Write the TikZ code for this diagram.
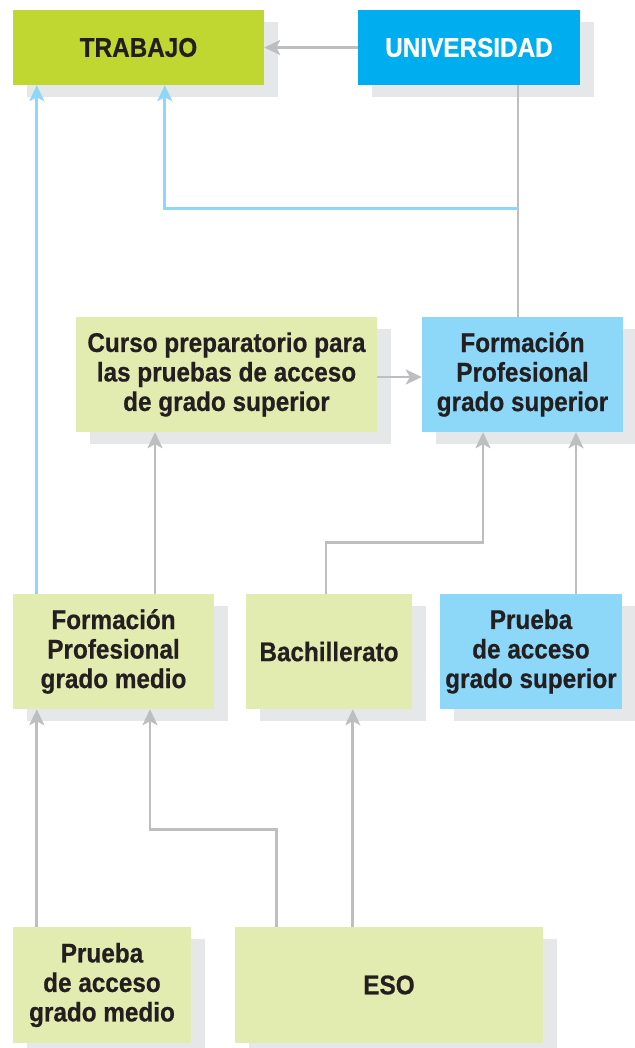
\documentclass[tikz,border=0pt]{standalone}
\usepackage{fontspec}
\newfontfamily\boxfont{Liberation Sans}[FakeStretch=0.9,BoldFeatures={FakeBold=0.6}]
\usepackage{tikz}
\usetikzlibrary{arrows.meta,positioning,shadows}
\definecolor{lima}{HTML}{BFD730}
\definecolor{cian}{HTML}{00AEEF}
\definecolor{verdeclaro}{HTML}{E2EBB0}
\definecolor{azulclaro}{HTML}{8DD8F8}
\definecolor{sombra}{HTML}{E6E7E8}
\definecolor{gris}{HTML}{BCBEC0}
\definecolor{texto}{HTML}{231F20}
\tikzset{
mybox/.style={
  rectangle,
  draw=none,
  align=center,
  inner sep=0pt,
  text=texto,
  font=\boxfont\bfseries\fontsize{27}{29.5}\selectfont,
  drop shadow={shadow xshift=14pt,shadow yshift=-12pt,fill=sombra,opacity=1}
  },
  mybox/.append style={minimum height=115pt}
}
\tikzset{
  grisline/.style={draw=gris,line width=2.8pt},
  azulline/.style={draw=azulclaro,line width=2.8pt},
  tip/.style={-{Stealth[length=16pt,width=15pt,inset=4pt]}}
}

\begin{document}
\begin{tikzpicture}[x=1pt,y=1pt]
\useasboundingbox (0,0) rectangle (634,-1048);

\node[mybox,fill=lima,minimum width=251pt,minimum height=75pt]
  (trabajo) at (138.5,-47.5) {TRABAJO};
\node[mybox,fill=cian,text=white,minimum width=222pt,minimum height=75pt]
  (univ) at (469,-47.5) {UNIVERSIDAD};

\node[mybox,fill=verdeclaro,minimum width=301pt]
  (curso) at (226.5,-374.5)
  {Curso preparatorio para\\las pruebas de acceso\\de grado superior};
\node[mybox,fill=azulclaro,minimum width=201pt]
  (fpsup) at (522.5,-374.5)
  {Formación\\Profesional\\grado superior};

\node[mybox,fill=verdeclaro,minimum width=201pt]
  (fpmedio) at (113.5,-651.5)
  {Formación\\Profesional\\grado medio};
\node[mybox,fill=verdeclaro,minimum width=166pt]
  (bach) at (329,-651.5) {Bachillerato};
\node[mybox,fill=azulclaro,minimum width=182pt]
  (pruebasup) at (531,-651.5)
  {Prueba\\de acceso\\grado superior};

\node[mybox,fill=verdeclaro,minimum width=178pt,minimum height=116pt]
  (pruebamedio) at (102,-985)
  {Prueba\\de acceso\\grado medio};
\node[mybox,fill=verdeclaro,minimum width=308pt,minimum height=116pt]
  (eso) at (389,-985) {ESO};

% universidad
\draw[grisline,tip] (univ.west) -- (trabajo.east);

\begin{scope}
\coordinate(start) at([xshift=-4.5pt]fpsup.north);
\coordinate(end) at([xshift=49pt]univ.south);
\coordinate(fork) at([xshift=49pt,yshift=-123pt]univ.south);
\draw[grisline] (start) -- (end);
\draw[azulline,tip] (fork) -| ([xshift=152pt]trabajo.south west);
\end{scope}

% grado medio y curso
\draw[azulline,tip] ([xshift=24pt]fpmedio.north west) -- ([xshift=24pt]trabajo.south west);
\draw[grisline,tip] ([xshift=41.5pt]fpmedio.north) -- ([xshift=-71.5pt]curso.south);
\draw[grisline,tip] ([yshift=-2.5pt]curso.east) -- ([yshift=-2.5pt]fpsup.west);

% bachillerato y prueba
\begin{scope}
\coordinate(start) at([xshift=-3pt]bach.north);
\coordinate(end) at([xshift=-39.5pt]fpsup.south);
\draw[grisline,tip] (start) -- ++(0,51) -| (end);
\end{scope}
\draw[grisline,tip] ([xshift=45pt]pruebasup.north) -- ([xshift=53.5pt]fpsup.south);

% eso
\draw[grisline,tip] ([xshift=24pt]pruebamedio.north west) -- ([xshift=24pt]fpmedio.south west);
\begin{scope}
\coordinate(start) at([xshift=42pt]eso.north west);
\coordinate(end) at([xshift=36.5pt]fpmedio.south);
\draw[grisline,tip] (start) -- ++(0,97) -| (end);
\end{scope}
\draw[grisline,tip] ([xshift=118pt]eso.north west) -- ([xshift=107pt]bach.south west);

\end{tikzpicture}
\end{document}
